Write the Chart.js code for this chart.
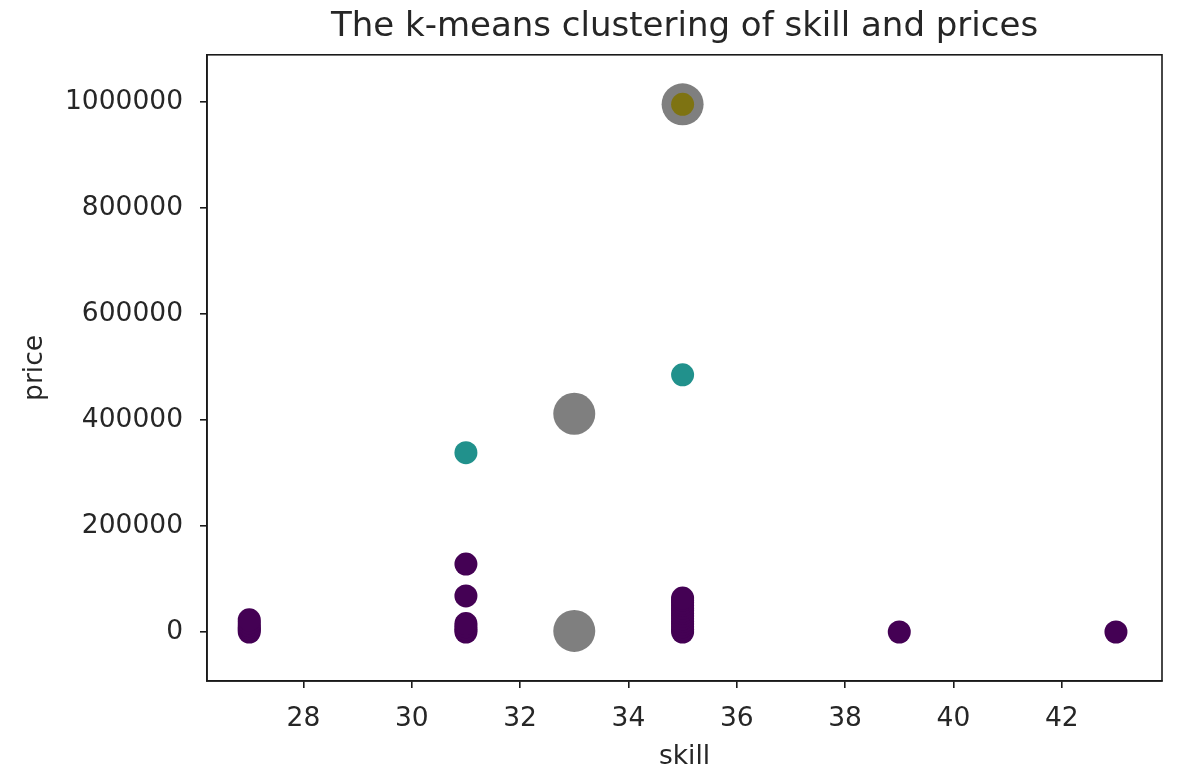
<!DOCTYPE html>
<html>
<head>
<meta charset="utf-8">
<script src="https://cdn.jsdelivr.net/npm/chart.js@4/dist/chart.umd.min.js"></script>
<style>
  html, body { margin: 0; padding: 0; background: #ffffff; }
  #wrap { width: 1183px; height: 773px; }
</style>
</head>
<body>
<div id="wrap"><canvas id="c" width="1183" height="773"></canvas></div>
<script>
// ---- data ----
const chartTitle = "The k-means clustering of skill and prices";
const xLabel = "skill";
const yLabel = "price";

// cluster 0 (purple)
const cluster0Skill = [27, 27, 27, 27, 27, 27,
                       31, 31, 31, 31, 31, 31,
                       35, 35, 35, 35, 35, 35, 35, 35, 35, 35, 35, 35, 35, 35,
                       39, 43];
const cluster0Price = [0, 4000, 8000, 12000, 17000, 23000,
                       0, 5000, 10000, 16000, 68000, 128000,
                       0, 5000, 10000, 15000, 20000, 25000, 30000, 35000, 40000, 45000, 50000, 55000, 60000, 64000,
                       0, 0];
// cluster 1 (teal)
const cluster1Skill = [31, 35];
const cluster1Price = [338000, 485000];
// cluster 2 (yellow)
const cluster2Skill = [35];
const cluster2Price = [995000];
// cluster centres (grey)
const centerSkill = [33, 33, 35];
const centerPrice = [2000, 411500, 995000];

const xTicks = [28, 30, 32, 34, 36, 38, 40, 42];
const yTicks = [0, 200000, 400000, 600000, 800000, 1000000];

const toPts = (xs, ys) => xs.map((x, i) => ({x: x, y: ys[i]}));

const FONT = "'DejaVu Sans', sans-serif";
const TXT = '#262626';

const boxPlugin = {
  id: 'box',
  afterDatasetsDraw(chart) {
    const a = chart.chartArea, ctx = chart.ctx;
    ctx.save();
    ctx.strokeStyle = '#1a1a1a';
    ctx.lineWidth = 1.6;
    ctx.strokeRect(a.left, a.top, a.right - a.left, a.bottom - a.top);
    ctx.restore();
  }
};

new Chart(document.getElementById('c'), {
  type: 'scatter',
  data: {
    datasets: [
      { label: 'centres', data: toPts(centerSkill, centerPrice), order: 0,
        backgroundColor: 'rgba(0,0,0,0.5)', borderWidth: 0, pointRadius: 21, pointHoverRadius: 21 },
      { label: 'c2', data: toPts(cluster2Skill, cluster2Price), order: 1,
        backgroundColor: '#fde725', borderWidth: 0, pointRadius: 11.5, pointHoverRadius: 11.5 },
      { label: 'c1', data: toPts(cluster1Skill, cluster1Price), order: 2,
        backgroundColor: '#21918c', borderWidth: 0, pointRadius: 11.5, pointHoverRadius: 11.5 },
      { label: 'c0', data: toPts(cluster0Skill, cluster0Price), order: 3,
        backgroundColor: '#440154', borderWidth: 0, pointRadius: 11.5, pointHoverRadius: 11.5 }
    ]
  },
  options: {
    responsive: false,
    animation: false,
    devicePixelRatio: 1,
    layout: { padding: { left: 0, right: 12, top: 0, bottom: 0 } },
    plugins: {
      legend: { display: false },
      tooltip: { enabled: false },
      title: {
        display: true, fullSize: false, text: chartTitle, color: TXT,
        font: { family: FONT, size: 34, weight: 'normal', lineHeight: 1.2 },
        padding: { top: 7, bottom: 7 }
      }
    },
    scales: {
      x: {
        type: 'linear', min: 26.22, max: 43.85,
        afterBuildTicks: (s) => { s.ticks = xTicks.map(v => ({ value: v })); },
        afterFit: (s) => { s.height = 92; },
        ticks: { color: TXT, font: { family: FONT, size: 26.5 }, padding: 15, maxRotation: 0,
                 callback: (v) => String(v) },
        grid: { display: true, drawOnChartArea: false, drawTicks: true, tickLength: 7,
                color: '#1a1a1a', lineWidth: 1.6 },
        border: { display: true, color: '#1a1a1a', width: 1.6 },
        title: { display: true, text: xLabel, color: TXT,
                 font: { family: FONT, size: 26.5 }, padding: { top: 0, bottom: 0 } }
      },
      y: {
        type: 'linear', min: -92400, max: 1088300,
        afterBuildTicks: (s) => { s.ticks = yTicks.map(v => ({ value: v })); },
        afterFit: (s) => { s.width = 207; },
        ticks: { color: TXT, font: { family: FONT, size: 26.5 }, padding: 17,
                 callback: (v) => String(v) },
        grid: { display: true, drawOnChartArea: false, drawTicks: true, tickLength: 7,
                color: '#1a1a1a', lineWidth: 1.6 },
        border: { display: true, color: '#1a1a1a', width: 1.6 },
        title: { display: true, text: yLabel, color: TXT,
                 font: { family: FONT, size: 26.5 }, padding: { top: 19, bottom: 0 } }
      }
    }
  },
  plugins: [boxPlugin]
});
</script>
</body>
</html>
